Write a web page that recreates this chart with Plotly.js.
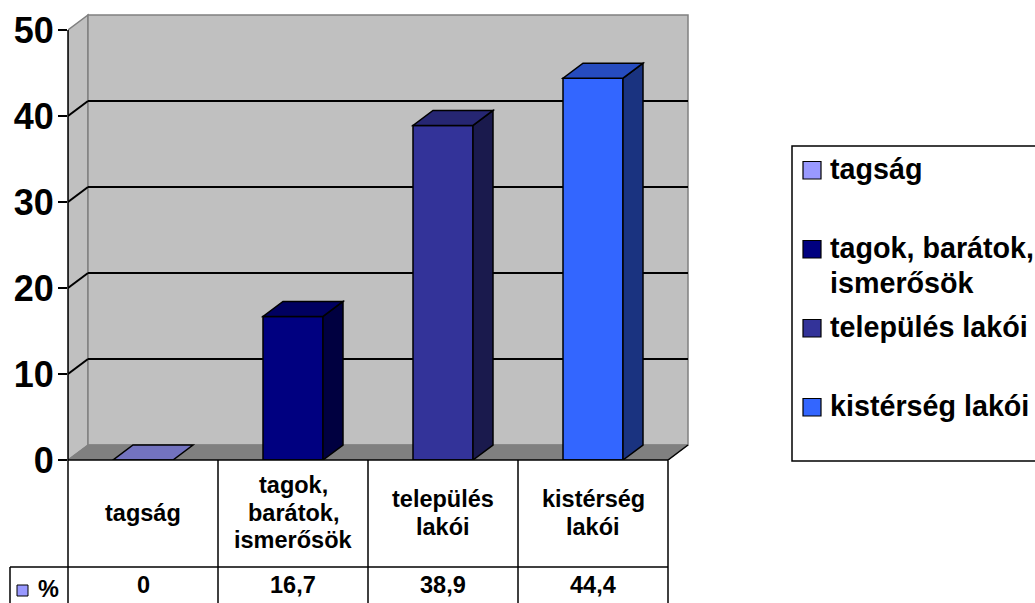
<!DOCTYPE html>
<html><head><meta charset="utf-8">
<script src="https://cdn.plot.ly/plotly-3.0.1.min.js"></script>
<style>html,body{margin:0;padding:0;background:#fff}#chart{width:1035px;height:603px}</style>
</head><body><div id="chart"></div>
<script>
// ---- data ----
const categories = ['tagság', 'tagok, barátok, ismerősök', 'település lakói', 'kistérség lakói'];
const values = [0, 16.7, 38.9, 44.4];
const valueLabels = ['0', '16,7', '38,9', '44,4'];
const seriesName = '%';
const tableLabelLines = [['tagság'], ['tagok,', 'barátok,', 'ismerősök'], ['település', 'lakói'], ['kistérség', 'lakói']];
const legendLabelLines = [['tagság'], ['tagok, barátok,', 'ismerősök'], ['település lakói'], ['kistérség lakói']];
const yTicks = [0, 10, 20, 30, 40, 50];
const frontColors = ['#9999FF', '#000080', '#333399', '#3366FF'];
const topColors = ['#7373BF', '#000060', '#262673', '#264CBF'];
const sideColors = ['#4D4D80', '#000040', '#1A1A4D', '#1A3380'];

// ---- geometry ----
const W = 1035, H = 603;
const ml = 68, mr = 345, mt = 13, mb = 143;
const pw = W - ml - mr, ph = H - mt - mb;
const pxPerCat = 150, pxPerUnit = 8.6;
const depthPx = 20, risePx = 15;
const xr = [-0.5, -0.5 + pw / pxPerCat];
const yr = [0, ph / pxPerUnit];
const D = depthPx / pxPerCat, E = risePx / pxPerUnit;
const barW = 0.4;
const n = categories.length;
const xs = categories.map((c, i) => i);
const yMax = yTicks[yTicks.length - 1];
const x0 = -0.5, xEnd = n - 0.5;
const FONT = '"Liberation Sans", Arial, sans-serif';

const px = x => (x - ml) / pw;          // paper x from page pixel
const py = y => (H - mb - y) / ph;      // paper y from page pixel
const cx = v => (v - xr[0]) / (xr[1] - xr[0]); // paper x from data x

const shapes = [];
const wallFill = '#C0C0C0', edge = '#808080';
// left side wall
shapes.push({type: 'path', xref: 'x', yref: 'y', layer: 'below',
  path: `M${x0},0 L${x0 + D},${E} L${x0 + D},${yMax + E} L${x0},${yMax} Z`,
  fillcolor: wallFill, line: {color: edge, width: 1.5}});
// back wall
shapes.push({type: 'rect', xref: 'x', yref: 'y', layer: 'below',
  x0: x0 + D, x1: xEnd + D, y0: E, y1: yMax + E,
  fillcolor: wallFill, line: {color: edge, width: 1.5}});
// floor
shapes.push({type: 'path', xref: 'x', yref: 'y', layer: 'below',
  path: `M${x0},0 L${xEnd},0 L${xEnd + D},${E} L${x0 + D},${E} Z`,
  fillcolor: '#808080', line: {color: '#808080', width: 1}});
shapes.push({type: 'line', xref: 'x', yref: 'y', layer: 'below',
  x0: xEnd, y0: 0, x1: xEnd + D, y1: E, line: {color: '#000', width: 1.5}});
// gridlines
yTicks.forEach(v => {
  if (v > 0 && v < yMax) {
    shapes.push({type: 'line', xref: 'x', yref: 'y', layer: 'below',
      x0: x0, y0: v, x1: x0 + D, y1: v + E, line: {color: '#000', width: 2}});
    shapes.push({type: 'line', xref: 'x', yref: 'y', layer: 'below',
      x0: x0 + D, y0: v + E, x1: xEnd + D, y1: v + E, line: {color: '#000', width: 2}});
  }
});
// 3D faces of bars
values.forEach((v, i) => {
  const xl = i - barW / 2, xrr = i + barW / 2;
  if (v > 0) {
    shapes.push({type: 'path', xref: 'x', yref: 'y', layer: 'above',
      path: `M${xrr},0 L${xrr + D},${E} L${xrr + D},${v + E} L${xrr},${v} Z`,
      fillcolor: sideColors[i], line: {color: '#000', width: 1.5}});
  }
  shapes.push({type: 'path', xref: 'x', yref: 'y', layer: 'above',
    path: `M${xl},${v} L${xrr},${v} L${xrr + D},${v + E} L${xl + D},${v + E} Z`,
    fillcolor: topColors[i], line: {color: '#000', width: 1.5}});
});
// value axis line and category axis line
shapes.push({type: 'line', xref: 'paper', yref: 'paper', x0: 0, x1: 0, y0: py(H), y1: yMax / yr[1], line: {color: '#000', width: 1.5}});
shapes.push({type: 'line', xref: 'paper', yref: 'paper', x0: 0, x1: cx(xEnd), y0: 0, y1: 0, line: {color: '#000', width: 1.5}});
// data table grid
for (let i = 1; i <= n; i++) {
  shapes.push({type: 'line', xref: 'paper', yref: 'paper', x0: cx(i - 0.5), x1: cx(i - 0.5), y0: 0, y1: py(H + 2), line: {color: '#000', width: 1.5}});
}
shapes.push({type: 'line', xref: 'paper', yref: 'paper', x0: px(10), x1: cx(xEnd), y0: py(567), y1: py(567), line: {color: '#000', width: 1.5}});
shapes.push({type: 'line', xref: 'paper', yref: 'paper', x0: px(10), x1: px(10), y0: py(567), y1: py(H + 2), line: {color: '#000', width: 1.5}});
shapes.push({type: 'rect', xref: 'paper', yref: 'paper', x0: px(17), x1: px(28), y0: py(596), y1: py(585), fillcolor: '#9999FF', line: {color: '#000', width: 1}});

const annotations = [];
const tFont = {family: FONT, size: 23.5, weight: 'bold', color: '#000'};
const hdrCenter = 521, lineGap = 27.5;
tableLabelLines.forEach((lines, i) => {
  lines.forEach((t, k) => {
    const base = hdrCenter + (k - (lines.length - 1) / 2) * lineGap;
    annotations.push({xref: 'x', yref: 'paper', x: xs[i], y: py(base - 8.2), text: t,
      showarrow: false, xanchor: 'center', yanchor: 'middle', font: tFont});
  });
  annotations.push({xref: 'x', yref: 'paper', x: xs[i], y: py(585), text: valueLabels[i],
    showarrow: false, xanchor: 'center', yanchor: 'middle', font: tFont});
});
annotations.push({xref: 'paper', yref: 'paper', x: px(36), y: py(589), text: seriesName,
  showarrow: false, xanchor: 'left', yanchor: 'middle', font: tFont});

// legend (drawn)
const lFont = {family: FONT, size: 28.7, weight: 'bold', color: '#000'};
const legBase = [179, 258, 337, 416];
shapes.push({type: 'rect', xref: 'paper', yref: 'paper', x0: px(792), x1: px(1060), y0: py(461), y1: py(146), line: {color: '#000', width: 1.5}, fillcolor: 'rgba(0,0,0,0)'});
legendLabelLines.forEach((lines, i) => {
  const b = legBase[i];
  shapes.push({type: 'rect', xref: 'paper', yref: 'paper', x0: px(803), x1: px(821), y0: py(b), y1: py(b - 17.5), fillcolor: frontColors[i], line: {color: '#000', width: 1.2}});
  lines.forEach((t, k) => {
    annotations.push({xref: 'paper', yref: 'paper', x: px(828), y: py(b + k * 35 - 10), text: t,
      showarrow: false, xanchor: 'left', yanchor: 'middle', font: lFont});
  });
});

const trace = {
  type: 'bar', x: xs, y: values, width: barW, name: seriesName,
  marker: {color: frontColors, line: {color: '#000', width: 1.5}},
  hoverinfo: 'skip', showlegend: false
};

const layout = {
  width: W, height: H, autosize: false,
  margin: {l: ml, r: mr, t: mt, b: mb, pad: 0},
  paper_bgcolor: '#fff', plot_bgcolor: '#fff',
  showlegend: false,
  xaxis: {range: xr, showgrid: false, zeroline: false, showline: false, showticklabels: false, ticks: '', fixedrange: true},
  yaxis: {range: yr, showgrid: false, zeroline: false, showline: false, automargin: false,
    tickmode: 'array', tickvals: yTicks, ticktext: yTicks.map(String),
    ticks: 'outside', ticklen: 9, tickwidth: 1.5, tickcolor: '#000', ticklabelstandoff: -3,
    tickfont: {family: FONT, size: 36, weight: 'bold', color: '#000'}, fixedrange: true},
  shapes: shapes, annotations: annotations
};

Plotly.newPlot('chart', [trace], layout, {displayModeBar: false, staticPlot: true});
</script>
</body></html>
